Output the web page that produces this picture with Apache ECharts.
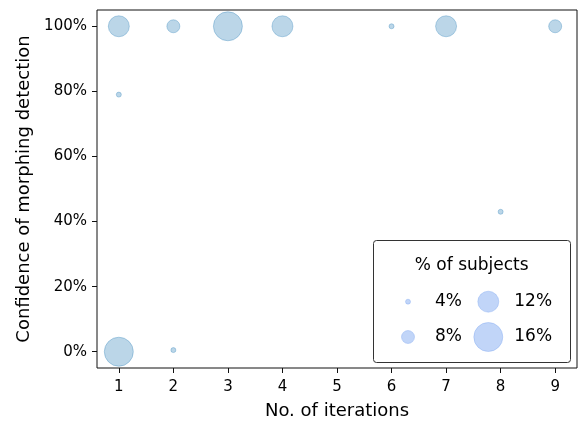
<!DOCTYPE html>
<html>
<head>
<meta charset="utf-8">
<script src="https://cdn.jsdelivr.net/npm/echarts@6/dist/echarts.min.js"></script>
<style>
html,body{margin:0;padding:0;background:#fff;}
#chart{width:578px;height:421px;}
</style>
</head>
<body>
<div id="chart"></div>
<script>
// Data
const iterations  = [1, 2, 3, 4, 6, 7, 9, 1, 1, 2, 8];
const confidence  = [100, 100, 100, 100, 100, 100, 100, 79, 0, 0.5, 43];
const subjectsPct = [12, 8, 16, 12, 4, 12, 8, 4, 16, 4, 4];

const xTicks = [1, 2, 3, 4, 5, 6, 7, 8, 9];
const yTicks = [0, 20, 40, 60, 80, 100];

const legendTitle = '% of subjects';
const legendValues = [4, 8, 12, 16];

const xName = 'No. of iterations';
const yName = 'Confidence of morphing detection';

// Styling helpers
const FONT = "'DejaVu Sans', sans-serif";
function sizeOf(v) { return 2 * v - 3; }

const points = iterations.map((x, i) => [x, confidence[i], subjectsPct[i]]);

// Legend graphic
const lgX = 373.5, lgY = 240.5, lgW = 197, lgH = 122;
const cols = [408, 488.3], labelX = [435, 514.3], rows = [301.7, 337];
const legendGraphics = [
  { type: 'rect', shape: { x: lgX, y: lgY, width: lgW, height: lgH, r: 3 },
    style: { fill: '#fff', stroke: '#333', lineWidth: 1 }, z: 100 },
  { type: 'text', x: 471.7, y: 266, z: 101,
    style: { text: legendTitle, font: '17px ' + FONT, fill: '#000', align: 'center', verticalAlign: 'middle' } }
];
legendValues.forEach((v, i) => {
  const c = Math.floor(i / 2), r = i % 2;
  legendGraphics.push({
    type: 'circle', z: 101,
    shape: { cx: cols[c], cy: rows[r], r: (sizeOf(v)) / 2 },
    style: { fill: 'rgba(100,149,237,0.4)', stroke: 'rgba(100,149,237,0.3)', lineWidth: 1 }
  });
  legendGraphics.push({
    type: 'text', x: labelX[c], y: rows[r], z: 101,
    style: { text: v + '%', font: '17px ' + FONT, fill: '#000', align: 'left', verticalAlign: 'middle' }
  });
});

const chart = echarts.init(document.getElementById('chart'), null, { renderer: 'canvas' });
chart.setOption({
  animation: false,
  backgroundColor: '#fff',
  textStyle: { fontFamily: FONT },
  grid: { left: 97, top: 10, right: 1, bottom: 53, containLabel: false, outerBoundsMode: 'none',
          show: true, borderColor: '#111', borderWidth: 1, backgroundColor: 'transparent' },
  xAxis: {
    type: 'value', min: 0.6, max: 9.4,
    name: xName, nameLocation: 'middle', nameGap: 34,
    nameTextStyle: { fontSize: 18, color: '#000', fontFamily: FONT },
    axisLine: { show: false, onZero: false },
    splitLine: { show: false },
    axisTick: { show: true, length: 5, inside: false, customValues: xTicks, lineStyle: { color: '#111' } },
    axisLabel: { fontSize: 15, color: '#000', margin: 12, customValues: xTicks, fontFamily: FONT }
  },
  yAxis: {
    type: 'value', min: -5, max: 105,
    name: yName, nameLocation: 'middle', nameGap: 62, nameRotate: 90,
    nameTextStyle: { fontSize: 18, color: '#000', fontFamily: FONT },
    axisLine: { show: false, onZero: false },
    splitLine: { show: false },
    axisTick: { show: true, length: 5, inside: false, customValues: yTicks, lineStyle: { color: '#111' } },
    axisLabel: { fontSize: 15, color: '#000', margin: 10, customValues: yTicks, fontFamily: FONT, formatter: '{value}%' }
  },
  series: [{
    type: 'scatter',
    data: points,
    symbol: 'circle',
    symbolSize: d => sizeOf(d[2]),
    itemStyle: { color: 'rgba(31,119,180,0.3)', borderColor: 'rgba(31,119,180,0.3)', borderWidth: 1, opacity: 1 }
  }],
  graphic: legendGraphics
});
</script>
</body>
</html>
